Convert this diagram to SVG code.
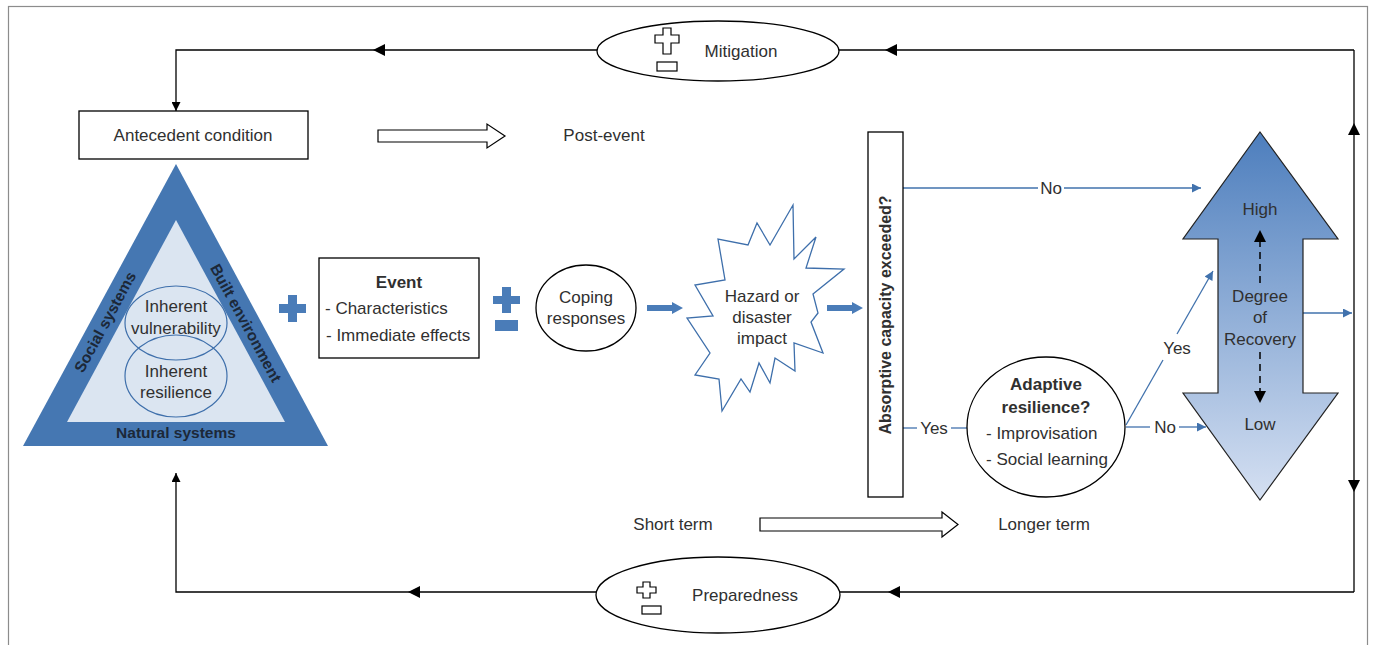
<svg xmlns="http://www.w3.org/2000/svg" width="1375" height="645" viewBox="0 0 1375 645">
<defs>
<style>
text{font-family:"Liberation Sans",Arial,sans-serif;font-size:17px;fill:#303030;}
.b{font-weight:bold;}
.c{text-anchor:middle;}
.abs{font-size:16px;}
.tri{font-weight:bold;fill:#1c2838;font-size:15.5px;text-anchor:middle;dominant-baseline:central;}
.blk{fill:none;stroke:#000;stroke-width:1.3;}
.bl{fill:none;stroke:#4172ad;stroke-width:1.3;}
.box{fill:#fff;stroke:#000;stroke-width:1.3;}
.ah{fill:#000;}
.blue{fill:#4a7cb8;}
</style>
<marker id="mb" viewBox="0 0 10 10" refX="10" refY="5" markerWidth="9" markerHeight="9" markerUnits="userSpaceOnUse" orient="auto"><path d="M0,0 L10,5 L0,10 z" fill="#000"/></marker>
<marker id="mbl" viewBox="0 0 10 10" refX="10" refY="5" markerWidth="10" markerHeight="9" markerUnits="userSpaceOnUse" orient="auto"><path d="M0,0 L10,5 L0,10 z" fill="#4172ad"/></marker>
<linearGradient id="grad" x1="0" y1="0" x2="0" y2="1">
<stop offset="0" stop-color="#4d7ebd"/>
<stop offset="1" stop-color="#d5e0f2"/>
</linearGradient>
</defs>
<rect x="0" y="0" width="1375" height="645" fill="#fff"/>
<rect x="8.5" y="6.5" width="1359" height="660" fill="none" stroke="#8c8c8c" stroke-width="1.2"/>

<g id="connectors">
<path class="blk" d="M1354,50 L176,50 L176,111" marker-end="url(#mb)"/>
<polygon class="ah" points="373,50 385,44 385,56"/>
<polygon class="ah" points="885,50 897,44 897,56"/>
<path class="blk" d="M1354,50 L1354,592"/>
<polygon class="ah" points="1354,123 1348,135 1360,135"/>
<polygon class="ah" points="1354,492 1348,480 1360,480"/>
<path class="blk" d="M1354,592 L176,592 L176,473" marker-end="url(#mb)"/>
<polygon class="ah" points="408,592 420,586 420,598"/>
<polygon class="ah" points="888,592 900,586 900,598"/>
<path class="bl" d="M903,188 L1038,188"/>
<path class="bl" d="M1064,188 L1201,188" marker-end="url(#mbl)"/>
<path class="bl" d="M903,428 L917,428"/>
<path class="bl" d="M951,428 L968,428"/>
<path class="bl" d="M1126,425 L1163,360"/>
<path class="bl" d="M1177,334 L1213,271" marker-end="url(#mbl)"/>
<path class="bl" d="M1126,427 L1150,427"/>
<path class="bl" d="M1179,427 L1206,427" marker-end="url(#mbl)"/>
<path class="bl" d="M1303,313 L1352,313" marker-end="url(#mbl)"/>
<polygon class="blue" points="647,305 672,305 672,302 683,308 672,314 672,311 647,311"/>
<polygon class="blue" points="827,305 852,305 852,302 863,308 852,314 852,311 827,311"/>
</g>

<g id="mitigation">
<ellipse cx="718" cy="51" rx="121" ry="30" class="box"/>
<path d="M663,28 h8 v7 h8 v8 h-8 v11 h-8 v-11 h-8 v-8 h8 z" fill="#fff" stroke="#000" stroke-width="1.2"/>
<rect x="657" y="62" width="20" height="9" fill="#fff" stroke="#000" stroke-width="1.2"/>
<text x="741" y="57" class="c">Mitigation</text>
</g>

<g id="preparedness">
<ellipse cx="718" cy="595" rx="122" ry="38" class="box"/>
<path d="M643,582 h7 v5 h6 v6 h-6 v5 h-7 v-5 h-6 v-6 h6 z" fill="#fff" stroke="#000" stroke-width="1.2"/>
<rect x="642" y="606" width="19" height="8" fill="#fff" stroke="#000" stroke-width="1.2"/>
<text x="745" y="601" class="c">Preparedness</text>
</g>

<g id="antecedent">
<rect x="79" y="111" width="229" height="48" class="box"/>
<text x="193" y="141" class="c">Antecedent condition</text>
</g>

<g id="post-event">
<polygon points="378,130 487,130 487,124 505,136 487,148 487,142 378,142" fill="#fff" stroke="#000" stroke-width="1.2"/>
<text x="604" y="141" class="c">Post-event</text>
</g>

<g id="triangle">
<polygon points="176,164 328,446 23,446" fill="#4577b2"/>
<polygon points="176,220 285,422 67,422" fill="#dbe5f1"/>
<ellipse cx="176" cy="323" rx="51" ry="37" fill="none" stroke="#3e6fab" stroke-width="1.2"/>
<ellipse cx="176" cy="376" rx="51" ry="41" fill="none" stroke="#3e6fab" stroke-width="1.2"/>
<text x="176" y="312" class="c">Inherent</text>
<text x="176" y="334" class="c">vulnerability</text>
<text x="176" y="377" class="c">Inherent</text>
<text x="176" y="398" class="c">resilience</text>
<text class="tri" transform="translate(105,322) rotate(-61.5)">Social systems</text>
<text class="tri" transform="translate(246,323) rotate(61.5)">Built environment</text>
<text x="176" y="438" class="tri" style="dominant-baseline:auto">Natural systems</text>
</g>

<g id="plus1">
<path class="blue" d="M288,295 h9 v9 h9 v9 h-9 v9 h-9 v-9 h-9 v-9 h9 z"/>
</g>

<g id="event">
<rect x="319" y="258" width="160" height="100" class="box"/>
<text x="399" y="288" class="c b">Event</text>
<text x="325" y="314">- Characteristics</text>
<text x="326" y="341">- Immediate effects</text>
</g>

<g id="plusminus">
<path class="blue" d="M502,287 h9 v9 h9 v8 h-9 v9 h-9 v-9 h-9 v-8 h9 z"/>
<rect class="blue" x="495" y="320" width="23" height="11"/>
</g>

<g id="coping">
<ellipse cx="586" cy="308" rx="50" ry="43" class="box"/>
<text x="586" y="303" class="c">Coping</text>
<text x="586" y="324" class="c">responses</text>
</g>

<g id="hazard">
<polygon points="793,205 794,259 816,237 806,268 844,269 813,294 818,313 811,322 823,353 794,343 795,371 775,358 770,383 759,363 750,392 741,379 722,411 719,379 695,375 710,353 687,318 713,316 695,285 725,280 718,239 748,245 757,223 770,245" fill="#fff" stroke="#3e6fab" stroke-width="1.3"/>
<text x="762" y="302" class="c">Hazard or</text>
<text x="762" y="323" class="c">disaster</text>
<text x="762" y="344" class="c">impact</text>
</g>

<g id="absorptive">
<rect x="868" y="132" width="35" height="365" class="box"/>
<text class="b c abs" transform="translate(891,315) rotate(-90)">Absorptive capacity exceeded?</text>
</g>

<g id="labels">
<text x="1051" y="194" class="c">No</text>
<text x="934" y="434" class="c">Yes</text>
<text x="1177" y="354" class="c">Yes</text>
<text x="1165" y="433" class="c">No</text>
</g>

<g id="adaptive">
<ellipse cx="1046" cy="427" rx="79" ry="70" class="box"/>
<text x="1046" y="390" class="c b">Adaptive</text>
<text x="1046" y="413" class="c b">resilience?</text>
<text x="986" y="439">- Improvisation</text>
<text x="986" y="465">- Social learning</text>
</g>

<g id="recovery">
<polygon points="1260,132 1338,239 1303,239 1303,393 1338,393 1260,500 1183,393 1218,393 1218,239 1183,239" fill="url(#grad)" stroke="#222" stroke-width="1.2"/>
<text x="1260" y="215" class="c">High</text>
<text x="1260" y="302" class="c">Degree</text>
<text x="1260" y="323" class="c">of</text>
<text x="1260" y="345" class="c">Recovery</text>
<text x="1260" y="430" class="c">Low</text>
<path d="M1260,240 L1260,286 M1260,352 L1260,393" stroke="#000" stroke-width="1.5" stroke-dasharray="7,5" fill="none"/>
<polygon class="ah" points="1260,230 1254,242 1266,242"/>
<polygon class="ah" points="1260,403 1254,391 1266,391"/>
</g>

<g id="timeline">
<text x="673" y="530" class="c">Short term</text>
<polygon points="760,518 942,518 942,512 958,524.5 942,537 942,531 760,531" fill="#fff" stroke="#000" stroke-width="1.2"/>
<text x="1044" y="530" class="c">Longer term</text>
</g>
</svg>
